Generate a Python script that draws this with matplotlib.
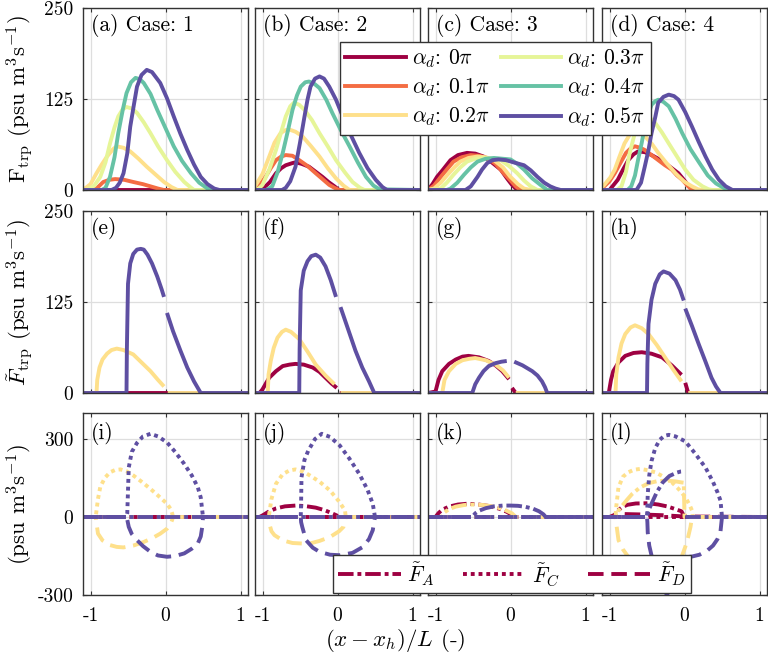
import numpy as np
import matplotlib
matplotlib.use('Agg')
import matplotlib.pyplot as plt
from matplotlib.lines import Line2D

plt.rcParams['font.family'] = 'cmr10'
plt.rcParams['mathtext.fontset'] = 'cm'
plt.rcParams['axes.unicode_minus'] = False

nan = np.nan

# colours for alpha_d = 0, 0.1, 0.2, 0.3, 0.4, 0.5 pi
colors = ['#9E0142', '#F46D43', '#FEE08B', '#E6F598', '#66C2A5', '#5E4FA2']
alpha_labels = ['0', '0.1', '0.2', '0.3', '0.4', '0.5']
case_names = ['1', '2', '3', '4']

# ---- row 1: F_trp for six alpha_d, one list of curves per case ----
a_x = [[-1.1, 1.1],
       [-1.1, -0.98, -0.92, -0.83, -0.75, -0.67, -0.55, -0.43, -0.3, -0.2, -0.1, -0.02, 1.1],
       [-1.1, -1.0, -0.92, -0.85, -0.78, -0.7, -0.65, -0.56, -0.47, -0.36, -0.25, -0.13, -0.02, 0.08, 0.16, 1.1],
       [-1.1, -1.05, -0.95, -0.87, -0.8, -0.74, -0.68, -0.63, -0.57, -0.52, -0.45, -0.38, -0.29, -0.2, -0.1, 0.02, 0.13, 0.25, 0.33, 0.38, 1.1],
       [-1.1, -0.85, -0.8, -0.74, -0.68, -0.63, -0.57, -0.52, -0.46, -0.4, -0.34, -0.29, -0.2, -0.11, 0.0, 0.11, 0.22, 0.34, 0.45, 0.56, 0.62, 1.1],
       [-1.1, -0.72, -0.66, -0.61, -0.56, -0.51, -0.47, -0.42, -0.38, -0.32, -0.25, -0.18, -0.07, 0.02, 0.11, 0.2, 0.29, 0.38, 0.47, 0.56, 0.65, 0.72, 1.1]]
a_y = [[0, 0],
       [0, 0, 2, 11, 14, 15, 14, 11, 8, 5, 2, 0, 0],
       [0, 8, 23, 35, 46, 56, 60, 58, 53, 43, 32, 21, 11, 4, 0, 0],
       [0, 0, 6, 18, 38, 64, 86, 101, 111, 114, 112, 106, 93, 78, 60, 41, 25, 11, 4, 0, 0],
       [0, 0, 3, 18, 45, 78, 110, 133, 148, 154, 152, 147, 132, 110, 85, 60, 40, 23, 10, 2, 0, 0],
       [0, 0, 3, 10, 23, 50, 87, 118, 142, 158, 165, 162, 147, 126, 101, 77, 55, 35, 18, 8, 2, 0, 0]]

b_x = [[-1.1, -1.02, -0.96, -0.9, -0.82, -0.75, -0.69, -0.6, -0.56, -0.48, -0.38, -0.29, -0.2, -0.12, -0.04, 0.02, 1.1],
       [-1.1, -1.05, -0.96, -0.89, -0.82, -0.75, -0.69, -0.6, -0.51, -0.4, -0.29, -0.2, -0.11, -0.04, 0.02, 0.06, 1.1],
       [-1.1, -1.0, -0.91, -0.84, -0.76, -0.7, -0.64, -0.56, -0.47, -0.36, -0.24, -0.13, -0.02, 0.08, 0.16, 1.1],
       [-1.1, -1.05, -1.0, -0.91, -0.82, -0.75, -0.69, -0.63, -0.58, -0.51, -0.44, -0.34, -0.24, -0.13, -0.02, 0.1, 0.2, 0.3, 0.36, 1.1],
       [-1.1, -0.95, -0.87, -0.8, -0.73, -0.66, -0.6, -0.54, -0.49, -0.43, -0.38, -0.31, -0.24, -0.15, -0.07, 0.04, 0.16, 0.27, 0.38, 0.48, 0.56, 1.1],
       [-1.1, -0.74, -0.69, -0.63, -0.56, -0.5, -0.44, -0.4, -0.36, -0.3, -0.24, -0.18, -0.11, -0.02, 0.07, 0.18, 0.29, 0.4, 0.51, 0.6, 0.66, 1.1]]
b_y = [[0, 0, 5, 11, 23, 30, 34, 37, 38, 36, 32, 25, 18, 11, 5, 0, 0],
       [0, 5, 18, 30, 41, 46, 48, 47, 41, 33, 23, 15, 7, 3, 0, 0, 0],
       [5, 22, 46, 65, 78, 82, 83, 80, 74, 61, 46, 30, 16, 6, 0, 0],
       [0, 2, 7, 28, 55, 80, 101, 115, 120, 117, 110, 96, 78, 60, 41, 24, 11, 3, 0, 0],
       [0, 0, 5, 24, 51, 82, 110, 130, 142, 148, 149, 146, 140, 124, 106, 83, 60, 38, 18, 6, 1, 0],
       [0, 0, 3, 12, 32, 65, 101, 124, 142, 153, 156, 153, 142, 124, 101, 75, 51, 30, 14, 4, 0, 0]]

c_x = [[-1.1, -1.04, -0.98, -0.9, -0.8, -0.7, -0.58, -0.47, -0.36, -0.25, -0.13, -0.04, 0.02, 0.09, 1.1],
       [-1.1, -1.02, -0.93, -0.85, -0.76, -0.65, -0.53, -0.42, -0.31, -0.2, -0.09, 0.0, 0.07, 0.13, 1.1],
       [-1.1, -1.02, -0.93, -0.84, -0.75, -0.67, -0.56, -0.44, -0.33, -0.22, -0.1, 0.0, 0.1, 0.18, 0.27, 1.1],
       [-1.1, -0.93, -0.85, -0.76, -0.67, -0.58, -0.47, -0.36, -0.25, -0.13, -0.02, 0.09, 0.18, 0.27, 0.36, 1.1],
       [-1.1, -0.85, -0.8, -0.71, -0.62, -0.53, -0.44, -0.33, -0.22, -0.11, 0.0, 0.09, 0.18, 0.29, 0.4, 0.49, 1.1],
       [-1.1, -0.6, -0.53, -0.44, -0.38, -0.31, -0.24, -0.16, -0.06, 0.04, 0.11, 0.18, 0.27, 0.36, 0.45, 0.53, 0.6, 0.67, 1.1]]
c_y = [[0, 8, 18, 28, 41, 48, 51, 50, 46, 38, 28, 15, 7, 0, 0],
       [0, 6, 18, 28, 39, 45, 48, 47, 44, 36, 23, 13, 5, 0, 0],
       [0, 2, 10, 21, 31, 39, 44, 46, 45, 41, 31, 18, 8, 2, 0, 0],
       [0, 2, 10, 21, 31, 39, 43, 44, 43, 41, 33, 23, 13, 5, 0, 0],
       [0, 0, 2, 10, 21, 31, 39, 43, 44, 43, 42, 36, 28, 16, 7, 0, 0],
       [0, 0, 5, 18, 28, 37, 41, 42, 41, 38, 36, 34, 27, 18, 10, 5, 2, 0, 0]]

d_x = [[-1.1, -1.0, -0.89, -0.82, -0.75, -0.68, -0.62, -0.53, -0.44, -0.35, -0.26, -0.17, -0.08, 0.0, 0.06, 0.1, 1.1],
       [-1.1, -1.0, -0.93, -0.85, -0.78, -0.72, -0.66, -0.59, -0.53, -0.44, -0.35, -0.26, -0.17, -0.1, -0.03, 0.04, 0.1, 1.1],
       [-1.1, -1.07, -0.99, -0.93, -0.87, -0.8, -0.73, -0.66, -0.59, -0.53, -0.44, -0.35, -0.24, -0.12, -0.01, 0.1, 0.18, 0.24, 1.1],
       [-1.1, -0.9, -0.84, -0.78, -0.73, -0.67, -0.62, -0.57, -0.53, -0.46, -0.39, -0.3, -0.21, -0.1, 0.01, 0.12, 0.24, 0.32, 0.37, 1.1],
       [-1.1, -0.76, -0.71, -0.66, -0.62, -0.57, -0.53, -0.48, -0.44, -0.39, -0.35, -0.28, -0.21, -0.12, -0.03, 0.08, 0.2, 0.31, 0.42, 0.52, 0.6, 1.1],
       [-1.1, -0.64, -0.58, -0.53, -0.48, -0.44, -0.39, -0.35, -0.28, -0.21, -0.14, -0.08, 0.01, 0.1, 0.19, 0.28, 0.37, 0.46, 0.55, 0.64, 1.1]]
d_y = [[0, 0, 14, 28, 41, 49, 53, 52, 48, 43, 37, 30, 23, 13, 5, 0, 0],
       [2, 12, 23, 38, 51, 57, 60, 58, 55, 48, 41, 34, 28, 20, 14, 6, 0, 0],
       [4, 7, 17, 28, 45, 64, 76, 80, 78, 74, 64, 51, 37, 23, 12, 5, 1, 0, 0],
       [0, 0, 5, 25, 51, 75, 92, 101, 103, 99, 92, 79, 64, 46, 28, 14, 5, 1, 0, 0],
       [0, 0, 5, 20, 41, 65, 87, 105, 117, 122, 124, 121, 115, 98, 78, 56, 37, 20, 9, 3, 0, 0],
       [0, 0, 10, 32, 55, 78, 100, 120, 128, 131, 129, 124, 107, 87, 66, 46, 28, 14, 5, 0, 0]]

# ---- row 2: F~_trp for alpha_d = 0, 0.2, 0.5 pi (gap at x = 0) ----
row2_colors = [0, 2, 5]
e_x = [[-1.1, 1.1],
       [-1.1, -0.92, -0.91, -0.88, -0.84, -0.78, -0.72, -0.65, -0.56, -0.43, -0.32, -0.2, -0.1, -0.02, nan, 0.03, 1.1],
       [-1.1, -0.52, -0.515, -0.5, -0.47, -0.43, -0.38, -0.33, -0.29, -0.24, -0.18, -0.11, -0.05, -0.02, nan, 0.02, 0.1, 0.2, 0.29, 0.38, 0.47, 1.1]]
e_y = [[0, 0],
       [0, 0, 18, 35, 46, 54, 59, 61, 59, 53, 42, 30, 18, 9, nan, 0, 0],
       [0, 0, 60, 150, 178, 191, 197, 198, 197, 190, 178, 160, 142, 132, nan, 110, 85, 58, 35, 16, 0, 0]]
f_x = [[-1.1, -1.04, -1.0, -0.95, -0.91, -0.82, -0.73, -0.64, -0.56, -0.45, -0.33, -0.24, -0.16, -0.08, -0.01, nan, 0.03, 1.1],
       [-1.1, -0.93, -0.92, -0.89, -0.85, -0.8, -0.74, -0.69, -0.62, -0.51, -0.4, -0.29, -0.16, -0.04, nan, 0.04, 1.1],
       [-1.1, -0.51, -0.505, -0.49, -0.45, -0.4, -0.35, -0.29, -0.23, -0.16, -0.09, -0.02, nan, 0.04, 0.14, 0.24, 0.33, 0.42, 0.49, 1.1]]
f_y = [[0, 0, 5, 14, 21, 30, 37, 39, 40, 39, 35, 29, 21, 13, 7, nan, 0, 0],
       [0, 0, 25, 44, 62, 76, 84, 87, 84, 74, 57, 39, 24, 12, nan, 0, 0],
       [0, 0, 60, 141, 168, 181, 188, 190, 186, 174, 155, 132, nan, 118, 88, 58, 35, 16, 0, 0]]
g_x = [[-1.1, -1.0, -0.96, -0.91, -0.82, -0.73, -0.64, -0.56, -0.42, -0.29, -0.2, -0.11, -0.02, nan, 0.02, 0.07, 1.1],
       [-1.1, -0.91, -0.88, -0.82, -0.73, -0.64, -0.55, -0.47, -0.33, -0.2, -0.1, -0.02, nan, 0.07, 1.1],
       [-1.1, -0.51, -0.47, -0.42, -0.36, -0.29, -0.2, -0.12, -0.05, nan, 0.05, 0.16, 0.29, 0.36, 0.42, 0.46, 0.49, 1.1]]
g_y = [[0, 2, 18, 30, 40, 46, 50, 51, 49, 44, 38, 30, 19, nan, 7, 0, 0],
       [0, 0, 18, 30, 40, 45, 47, 48, 45, 39, 31, 21, nan, 0, 0],
       [0, 0, 12, 21, 30, 37, 41, 43, 44, nan, 43, 38, 30, 24, 16, 8, 0, 0]]
h_x = [[-1.1, -1.01, -0.98, -0.95, -0.88, -0.79, -0.68, -0.57, -0.44, -0.3, -0.17, -0.04, nan, 0.01, 0.05, 1.1],
       [-1.1, -0.92, -0.91, -0.88, -0.84, -0.79, -0.72, -0.66, -0.57, -0.48, -0.37, -0.26, -0.15, -0.04, nan, 0.05, 1.1],
       [-1.1, -0.5, -0.495, -0.48, -0.44, -0.39, -0.33, -0.28, -0.2, -0.12, -0.06, -0.01, nan, 0.01, 0.1, 0.19, 0.28, 0.36, 0.42, 0.48, 1.1]]
h_y = [[0, 0, 18, 30, 42, 51, 55, 56, 54, 49, 38, 25, nan, 14, 0, 0],
       [0, 0, 25, 49, 68, 81, 90, 93, 89, 81, 66, 49, 32, 16, nan, 0, 0],
       [0, 0, 40, 95, 128, 150, 163, 167, 164, 155, 142, 127, nan, 116, 92, 67, 43, 21, 9, 0, 0]]

# ---- row 3: F~_A, F~_C, F~_D for alpha_d = 0, 0.2, 0.5 pi ----
zero_x = [-1.1, 1.1]
zero_y = [0, 0]

i_A_x = [zero_x, zero_x, zero_x]
i_A_y = [zero_y, zero_y, zero_y]
i_C_x = [zero_x,
         [-1.1, -0.93, -0.92, -0.9, -0.87, -0.81, -0.74, -0.67, -0.6, -0.52, -0.43, -0.32, -0.2, -0.09, 0.02, 0.07, 0.09, 0.1, 1.1],
         [-1.1, -0.52, -0.51, -0.49, -0.45, -0.38, -0.3, -0.2, -0.1, 0.02, 0.13, 0.25, 0.35, 0.43, 0.47, 0.49, 0.5, 1.1]]
i_C_y = [zero_y,
         [0, 0, 25, 70, 115, 150, 172, 181, 183, 176, 160, 136, 108, 80, 51, 30, 13, 0, 0],
         [0, 0, 13, 190, 250, 285, 310, 320, 310, 287, 250, 204, 160, 115, 75, 25, 0, 0]]
i_D_x = [zero_x,
         [-1.1, -0.93, -0.92, -0.9, -0.84, -0.74, -0.65, -0.56, -0.43, -0.29, -0.18, -0.07, 0.02, 0.07, 0.09, 0.1, 1.1],
         [-1.1, -0.52, -0.51, -0.49, -0.45, -0.38, -0.3, -0.2, -0.1, 0.02, 0.13, 0.25, 0.35, 0.43, 0.47, 0.49, 0.5, 1.1]]
i_D_y = [zero_y,
         [0, 0, -25, -64, -90, -108, -115, -117, -110, -96, -82, -64, -45, -25, -10, 0, 0],
         [0, 0, -10, -38, -65, -89, -112, -134, -148, -153, -150, -140, -122, -102, -75, -38, 0, 0]]

j_A_x = [[-1.1, -1.04, -1.0, -0.91, -0.82, -0.7, -0.56, -0.43, -0.29, -0.17, -0.08, -0.01, 0.0, 1.1], zero_x, zero_x]
j_A_y = [[0, 0, 6, 22, 33, 41, 44, 42, 36, 26, 15, 6, 0, 0], zero_y, zero_y]
j_C_x = [zero_x,
         [-1.1, -0.92, -0.91, -0.88, -0.82, -0.73, -0.64, -0.56, -0.46, -0.37, -0.24, -0.1, 0.02, 0.1, 0.11, 1.1],
         [-1.1, -0.49, -0.485, -0.48, -0.44, -0.39, -0.3, -0.21, -0.1, 0.03, 0.16, 0.29, 0.4, 0.47, 0.5, 1.1]]
j_C_y = [zero_y,
         [0, 0, 13, 70, 128, 165, 179, 183, 175, 160, 136, 102, 60, 25, 0, 0],
         [0, 0, 60, 153, 220, 255, 300, 320, 308, 275, 224, 166, 105, 51, 0, 0]]
j_D_x = [zero_x,
         [-1.1, -0.92, -0.91, -0.88, -0.84, -0.73, -0.6, -0.47, -0.37, -0.24, -0.1, 0.02, 0.08, 0.11, 1.1],
         [-1.1, -0.49, -0.485, -0.47, -0.42, -0.33, -0.24, -0.1, 0.03, 0.2, 0.34, 0.42, 0.47, 0.5, 1.1]]
j_D_y = [zero_y,
         [0, 0, -25, -55, -70, -90, -100, -102, -102, -92, -77, -55, -38, 0, 0],
         [0, 0, -20, -38, -89, -118, -134, -145, -147, -138, -115, -85, -51, 0, 0]]

k_A_x = [[-1.1, -1.0, -0.96, -0.91, -0.82, -0.7, -0.58, -0.45, -0.3, -0.15, -0.05, 0.02, 0.06, 1.1],
         [-1.1, -0.92, -0.88, -0.82, -0.73, -0.62, -0.5, -0.36, -0.2, -0.08, 0.02, 0.07, 1.1],
         [-1.1, -0.51, -0.47, -0.42, -0.33, -0.22, -0.1, 0.0, 0.1, 0.2, 0.3, 0.38, 0.44, 0.47, 1.1]]
k_A_y = [[0, 0, 15, 28, 40, 48, 51, 49, 43, 32, 20, 8, 0, 0],
         [0, 0, 18, 30, 40, 46, 48, 46, 39, 28, 14, 0, 0],
         [0, 0, 14, 24, 34, 41, 44, 44, 43, 39, 32, 22, 10, 0, 0]]
k_C_x = [zero_x, zero_x, zero_x]
k_C_y = [zero_y, zero_y, zero_y]
k_D_x = [zero_x, zero_x, zero_x]
k_D_y = [zero_y, zero_y, zero_y]

l_A_x = [[-1.1, -0.95, -0.89, -0.82, -0.76, -0.65, -0.49, -0.35, -0.22, -0.12, -0.04, 0.0, 1.1],
         [-1.1, -0.92, -0.88, -0.84, -0.77, -0.7, -0.6, -0.48, -0.36, -0.24, -0.12, -0.04, -0.01, 0.0, 1.1],
         [-1.1, -0.5, -0.48, -0.44, -0.37, -0.29, -0.2, -0.1, -0.05, -0.01, nan, 0.01, 1.1]]
l_A_y = [[0, 0, 25, 40, 47, 52, 53, 48, 40, 30, 22, 0, 0],
         [0, 0, 25, 40, 65, 88, 112, 130, 138, 140, 137, 133, 132, 0, 0],
         [0, 0, 25, 51, 95, 133, 158, 171, 175, 176, nan, 0, 0]]
l_C_x = [zero_x,
         [-1.1, -0.92, -0.91, -0.88, -0.82, -0.75, -0.67, -0.59, -0.49, -0.39, -0.28, -0.17, -0.08, 0.01, 0.07, 0.1, 0.11, 1.1],
         [-1.1, -0.5, -0.495, -0.49, -0.47, -0.44, -0.39, -0.33, -0.27, -0.21, -0.12, 0.01, 0.14, 0.28, 0.38, 0.44, 0.48, 0.5, 1.1]]
l_C_y = [zero_y,
         [0, 0, 40, 115, 155, 172, 182, 185, 180, 172, 155, 134, 108, 77, 45, 25, 0, 0],
         [0, 0, 40, 89, 160, 215, 265, 297, 312, 316, 310, 291, 245, 190, 135, 95, 63, 0, 0]]
l_D_x = [[-1.1, -1.0, -0.9, -0.6, -0.3, 0.0, 1.1],
         [-1.1, -0.92, -0.91, -0.88, -0.82, -0.75, -0.66, -0.57, -0.46, -0.35, -0.23, -0.12, -0.04, 0.01, 0.05, 0.08, 0.1, 1.1],
         [-1.1, -0.5, -0.495, -0.49, -0.47, -0.43, -0.38, -0.31, -0.24, -0.17, -0.1, -0.02, nan, 0.02, 0.1, 0.2, 0.3, 0.38, 0.44, 0.48, 0.5, 1.1]]
l_D_y = [[0, 0, 12, 10, 7, 2, 0],
         [0, 0, -25, -89, -125, -153, -180, -198, -208, -211, -203, -185, -155, -115, -75, -38, 0, 0],
         [0, 0, -20, -60, -110, -160, -195, -250, -297, -320, -330, -330, nan, -155, -152, -145, -130, -110, -85, -55, 0, 0]]

# ---- layout (pixels of a 768 x 654 figure) ----
W, H = 768, 654
col_left = [83, 255, 428, 602]
col_w = 165
row_top = [8, 211, 413]
row_h = 182
LW = 2.8
style_A = (0, (4, 1, 1, 1))
style_C = (0, (1, 1))
style_D = (0, (4, 2))
TICK_FS = 14
TEXT_FS = 15.5
LABEL_FS = 16.5

fig = plt.figure(figsize=(W / 100, H / 100), dpi=100)


def make_ax(r, c):
    ax = fig.add_axes([col_left[c] / W, 1 - (row_top[r] + row_h) / H, col_w / W, row_h / H])
    ax.set_xlim(-1.1, 1.1)
    ax.set_xticks([-1, 0, 1])
    ax.grid(True, color='#dedede', linewidth=0.9)
    ax.set_axisbelow(True)
    ax.tick_params(direction='in', length=3, top=True, right=True, labelsize=TICK_FS,
                   color='#333333')
    ax.tick_params(axis='x', pad=9)
    ax.tick_params(axis='y', pad=7)
    for sp in ax.spines.values():
        sp.set_color('#333333')
        sp.set_linewidth(1.0)
    if r < 2:
        ax.set_ylim(0, 250)
        ax.set_yticks([0, 125, 250])
        ax.set_yticklabels(['0', '125', '250'])
    else:
        ax.set_ylim(-300, 400)
        ax.set_yticks([-300, 0, 300])
        ax.set_yticklabels(['-300', '0', '300'])
    if c > 0:
        ax.set_yticklabels([])
    if r < 2:
        ax.set_xticklabels([])
    else:
        ax.set_xticklabels(['-1', '0', '1'])
    return ax


letters = 'abcdefghijkl'
row1 = [(a_x, a_y), (b_x, b_y), (c_x, c_y), (d_x, d_y)]
row2 = [(e_x, e_y), (f_x, f_y), (g_x, g_y), (h_x, h_y)]
row3 = [(i_A_x, i_A_y, i_C_x, i_C_y, i_D_x, i_D_y),
        (j_A_x, j_A_y, j_C_x, j_C_y, j_D_x, j_D_y),
        (k_A_x, k_A_y, k_C_x, k_C_y, k_D_x, k_D_y),
        (l_A_x, l_A_y, l_C_x, l_C_y, l_D_x, l_D_y)]

for c in range(4):
    # row 1
    ax = make_ax(0, c)
    ax.axhline(0, color='black', linewidth=0.8)
    xs, ys = row1[c]
    for k in range(6):
        ax.plot(xs[k], ys[k], color=colors[k], linewidth=LW, solid_capstyle='butt')
    ax.text(0.05, 0.905, f'({letters[c]}) Case: {case_names[c]}', transform=ax.transAxes,
            fontsize=TEXT_FS, va='center', ha='left')

    # row 2
    ax = make_ax(1, c)
    ax.axhline(0, color='black', linewidth=0.8)
    xs, ys = row2[c]
    for k in range(3):
        ax.plot(xs[k], ys[k], color=colors[row2_colors[k]], linewidth=LW, solid_capstyle='butt')
    ax.text(0.05, 0.905, f'({letters[c + 4]})', transform=ax.transAxes,
            fontsize=TEXT_FS, va='center', ha='left')

    # row 3
    ax = make_ax(2, c)
    Ax, Ay, Cx, Cy, Dx, Dy = row3[c]
    for k in range(3):
        col = colors[row2_colors[k]]
        ax.plot(Ax[k], Ay[k], color=col, linewidth=LW, linestyle=style_A, dash_capstyle='butt')
        ax.plot(Cx[k], Cy[k], color=col, linewidth=LW, linestyle=style_C, dash_capstyle='butt')
        ax.plot(Dx[k], Dy[k], color=col, linewidth=LW, linestyle=style_D, dash_capstyle='butt')
    ax.text(0.05, 0.89, f'({letters[c + 8]})', transform=ax.transAxes,
            fontsize=TEXT_FS, va='center', ha='left')

# y labels
fig.text(20 / W, 1 - 99 / H, r'$\mathrm{F_{trp}}$ (psu m$^3$s$^{-1}$)', rotation=90,
         ha='center', va='center', fontsize=LABEL_FS)
fig.text(20 / W, 1 - 302 / H, r'$\tilde{F}_{\mathrm{trp}}$ (psu m$^3$s$^{-1}$)', rotation=90,
         ha='center', va='center', fontsize=LABEL_FS)
fig.text(20 / W, 1 - 504 / H, r'(psu m$^3$s$^{-1}$)', rotation=90,
         ha='center', va='center', fontsize=LABEL_FS)
fig.text(395 / W, 1 - 640 / H, r'$(x-x_h)/L$ (-)', ha='center', va='center', fontsize=LABEL_FS)

# legend for alpha_d
handles = [Line2D([], [], color=colors[k], linewidth=LW) for k in range(6)]
labels = [rf'$\alpha_d$: ${alpha_labels[k]}\pi$' for k in range(6)]
leg = fig.legend(handles, labels, ncol=2, loc='upper left',
                 bbox_to_anchor=(340 / W, 1 - 42 / H), fontsize=TEXT_FS, frameon=True,
                 fancybox=False, edgecolor='#333333', framealpha=1,
                 handlelength=2.8, handletextpad=0.3, columnspacing=0.5,
                 labelspacing=0.3, borderpad=0.25, borderaxespad=0)
leg.get_frame().set_linewidth(1.0)

# legend for flux components
handles2 = [Line2D([], [], color=colors[0], linewidth=LW, linestyle=s, dash_capstyle='butt')
            for s in (style_A, style_C, style_D)]
labels2 = [r'$\tilde{F}_A$', r'$\tilde{F}_C$', r'$\tilde{F}_D$']
leg2 = fig.legend(handles2, labels2, ncol=3, loc='lower left',
                  bbox_to_anchor=(333 / W, 1 - 593 / H), fontsize=TEXT_FS, frameon=True,
                  fancybox=False, edgecolor='#333333', framealpha=1,
                  handlelength=2.9, handletextpad=0.3, columnspacing=1.3,
                  borderpad=0.25, borderaxespad=0)
leg2.get_frame().set_linewidth(1.0)

fig.savefig('out.png', dpi=100)
